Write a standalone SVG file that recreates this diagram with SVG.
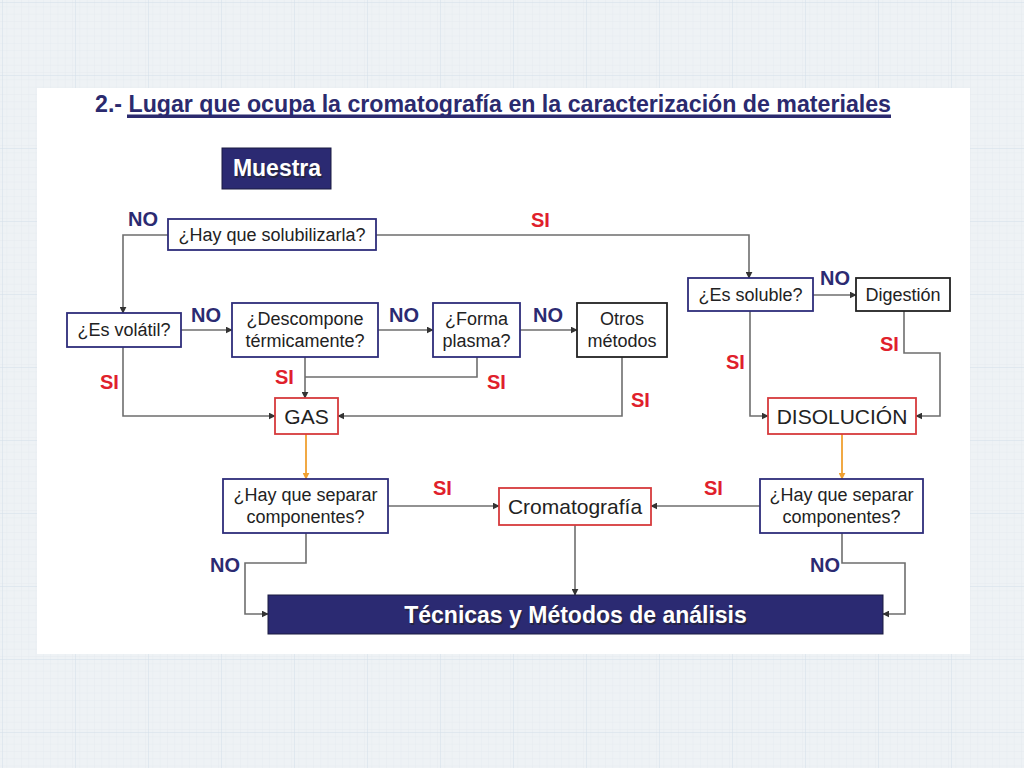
<svg xmlns="http://www.w3.org/2000/svg" width="1024" height="768" viewBox="0 0 1024 768">
<defs>
<pattern id="gridMinor" width="7.3" height="7.3" patternUnits="userSpaceOnUse">
<path d="M7.3 0V7.3H0" fill="none" stroke="#dfe6ed" stroke-width="0.6"/>
</pattern>
<pattern id="gridMajor" width="73" height="73" patternUnits="userSpaceOnUse" x="3" y="3">
<path d="M73 0V73H0" fill="none" stroke="#d3dee8" stroke-width="1"/>
</pattern>
<marker id="ah" viewBox="0 0 10 10" refX="9" refY="5" markerWidth="7" markerHeight="7" orient="auto" markerUnits="userSpaceOnUse">
<path d="M0 0L10 5L0 10z" fill="#333"/>
</marker>
<marker id="aho" viewBox="0 0 10 10" refX="9" refY="5" markerWidth="7" markerHeight="7" orient="auto" markerUnits="userSpaceOnUse">
<path d="M0 0L10 5L0 10z" fill="#f0a030"/>
</marker>
</defs>
<style>
.q{fill:#fff;stroke:#2e2d7a;stroke-width:1.8}
.k{fill:#fff;stroke:#222;stroke-width:1.8}
.r{fill:#fff;stroke:#d63a3c;stroke-width:1.8}
.nv{fill:#2b2a72;stroke:#1a1a40;stroke-width:1}
.t{font-family:"Liberation Sans",Arial,sans-serif;font-size:18px;fill:#222;text-anchor:middle}
.tb{font-family:"Liberation Sans",Arial,sans-serif;font-size:21px;fill:#222;text-anchor:middle}
.w{font-family:"Liberation Sans",Arial,sans-serif;font-weight:bold;fill:#fff;text-anchor:middle}
.ws{font-family:"Liberation Sans",Arial,sans-serif;font-weight:bold;fill:#222;text-anchor:middle;opacity:0.6}
.no{font-family:"Liberation Sans",Arial,sans-serif;font-weight:bold;font-size:20px;fill:#2b2a72}
.si{font-family:"Liberation Sans",Arial,sans-serif;font-weight:bold;font-size:20px;fill:#e0202b}
.c{fill:none;stroke:#6e6e6e;stroke-width:1.6}
.o{fill:none;stroke:#f0a030;stroke-width:1.8}
</style>
<rect width="1024" height="768" fill="#eef2f5"/>
<rect width="1024" height="768" fill="url(#gridMinor)"/>
<rect width="1024" height="768" fill="url(#gridMajor)"/>
<rect x="37" y="88" width="933" height="566" fill="#fff"/>

<g id="title">
<text x="95" y="112" font-family="Liberation Sans,Arial,sans-serif" font-weight="bold" font-size="23" fill="#2b2a6e" textLength="796" lengthAdjust="spacingAndGlyphs">2.- Lugar que ocupa la cromatografía en la caracterización de materiales</text>
<rect x="127" y="114.5" width="764" height="3.5" fill="#2b2a6e"/>
</g>

<g id="connectors">
<path class="c" d="M168 235H123V313" marker-end="url(#ah)"/>
<path class="c" d="M376 235H749V278" marker-end="url(#ah)"/>
<path class="c" d="M181 330H232" marker-end="url(#ah)"/>
<path class="c" d="M378 330H433" marker-end="url(#ah)"/>
<path class="c" d="M520 330H577" marker-end="url(#ah)"/>
<path class="c" d="M123 347V416H275" marker-end="url(#ah)"/>
<path class="c" d="M305 357V398" marker-end="url(#ah)"/>
<path class="c" d="M477 357V377H305"/>
<path class="c" d="M622 357V416H338" marker-end="url(#ah)"/>
<path class="o" d="M306 434V479" marker-end="url(#aho)"/>
<path class="c" d="M813 295H856" marker-end="url(#ah)"/>
<path class="c" d="M750 311V416H768" marker-end="url(#ah)"/>
<path class="c" d="M904 311V353H940V416H916" marker-end="url(#ah)"/>
<path class="o" d="M842 434V479" marker-end="url(#aho)"/>
<path class="c" d="M388 506H499" marker-end="url(#ah)"/>
<path class="c" d="M760 506H651" marker-end="url(#ah)"/>
<path class="c" d="M306 533V563H245V614H268" marker-end="url(#ah)"/>
<path class="c" d="M575 525V595" marker-end="url(#ah)"/>
<path class="c" d="M842 533V563H905V614H883" marker-end="url(#ah)"/>
</g>

<g id="labels">
<text class="no" x="128" y="226">NO</text>
<text class="si" x="531" y="227">SI</text>
<text class="no" x="191" y="322">NO</text>
<text class="no" x="389" y="322">NO</text>
<text class="no" x="533" y="322">NO</text>
<text class="si" x="100" y="389">SI</text>
<text class="si" x="275" y="384">SI</text>
<text class="si" x="487" y="389">SI</text>
<text class="si" x="631" y="407">SI</text>
<text class="no" x="820" y="285">NO</text>
<text class="si" x="726" y="369">SI</text>
<text class="si" x="880" y="351">SI</text>
<text class="si" x="433" y="495">SI</text>
<text class="si" x="704" y="495">SI</text>
<text class="no" x="210" y="572">NO</text>
<text class="no" x="810" y="572">NO</text>
</g>

<g id="muestra">
<rect class="nv" x="222" y="148" width="109" height="41"/>
<text class="ws" x="278.5" y="177.5" font-size="23">Muestra</text>
<text class="w" x="277" y="176" font-size="23">Muestra</text>
</g>

<g id="solubilizar">
<rect class="q" x="168" y="219" width="208" height="31"/>
<text class="t" x="272" y="241">¿Hay que solubilizarla?</text>
</g>

<g id="volatil">
<rect class="q" x="67" y="313" width="114" height="34"/>
<text class="t" x="124" y="336">¿Es volátil?</text>
</g>

<g id="descompone">
<rect class="q" x="232" y="303" width="146" height="54"/>
<text class="t" x="305" y="325">¿Descompone</text>
<text class="t" x="305" y="347">térmicamente?</text>
</g>

<g id="plasma">
<rect class="q" x="433" y="303" width="87" height="54"/>
<text class="t" x="476.5" y="325">¿Forma</text>
<text class="t" x="476.5" y="347">plasma?</text>
</g>

<g id="otros">
<rect class="k" x="577" y="303" width="90" height="54"/>
<text class="t" x="622" y="325">Otros</text>
<text class="t" x="622" y="347">métodos</text>
</g>

<g id="gas">
<rect class="r" x="275" y="398" width="63" height="36"/>
<text class="tb" x="306.5" y="424">GAS</text>
</g>

<g id="soluble">
<rect class="q" x="688" y="278" width="125" height="33"/>
<text class="t" x="750.5" y="301">¿Es soluble?</text>
</g>

<g id="digestion">
<rect class="k" x="856" y="278" width="94" height="33"/>
<text class="t" x="903" y="301">Digestión</text>
</g>

<g id="disolucion">
<rect class="r" x="768" y="398" width="148" height="36"/>
<text class="tb" x="842" y="424">DISOLUCIÓN</text>
</g>

<g id="separarIzq">
<rect class="q" x="223" y="479" width="165" height="54"/>
<text class="t" x="305.5" y="501">¿Hay que separar</text>
<text class="t" x="305.5" y="523">componentes?</text>
</g>

<g id="cromatografia">
<rect class="r" x="499" y="488" width="152" height="37"/>
<text class="tb" x="575" y="514">Cromatografía</text>
</g>

<g id="separarDer">
<rect class="q" x="760" y="479" width="163" height="54"/>
<text class="t" x="841.5" y="501">¿Hay que separar</text>
<text class="t" x="841.5" y="523">componentes?</text>
</g>

<g id="tecnicas">
<rect class="nv" x="268" y="595" width="615" height="39"/>
<text class="ws" x="577" y="624.5" font-size="23">Técnicas y Métodos de análisis</text>
<text class="w" x="575.5" y="623" font-size="23">Técnicas y Métodos de análisis</text>
</g>
</svg>
